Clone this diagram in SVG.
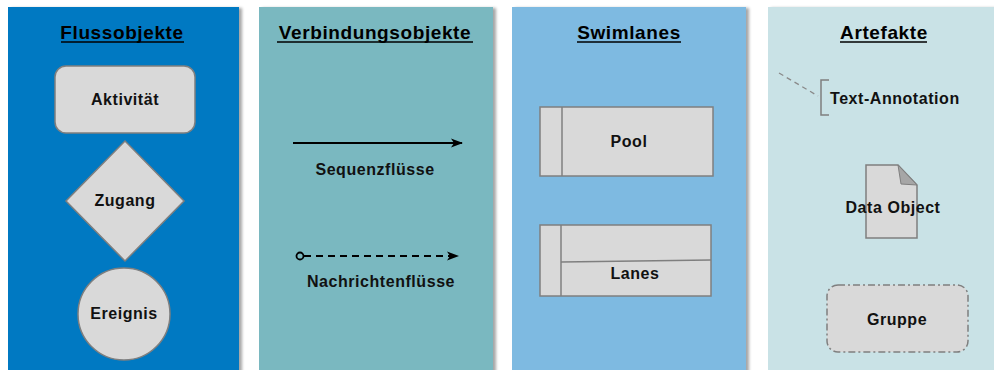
<svg xmlns="http://www.w3.org/2000/svg" width="994" height="370" viewBox="0 0 994 370">
  <defs>
    <filter id="sh" x="-5%" y="-5%" width="115%" height="110%">
      <feDropShadow dx="3" dy="1" stdDeviation="1.5" flood-color="#000" flood-opacity="0.35"/>
    </filter>
    <marker id="arrowSolid" viewBox="0 0 12 10" refX="11" refY="5" markerWidth="12" markerHeight="10" markerUnits="userSpaceOnUse" orient="auto">
      <path d="M0,0.5 L12,5 L0,9.5 L3,5 Z" fill="#000"/>
    </marker>
    <marker id="arrowOpen" viewBox="0 0 12 10" refX="11" refY="5" markerWidth="12" markerHeight="10" markerUnits="userSpaceOnUse" orient="auto">
      <path d="M0,0.5 L12,5 L0,9.5 L3,5 Z" fill="#000"/>
    </marker>
  </defs>
  <style>
    .title { font-family: "Liberation Sans", Arial, sans-serif; font-weight: bold; font-size: 19px; letter-spacing: 0.6px; fill: #000; text-anchor: middle; }
    .ul { stroke: #000; stroke-width: 1.5; }
    .lbl { font-family: "Liberation Sans", Arial, sans-serif; font-weight: bold; font-size: 16px; letter-spacing: 0.55px; fill: #111; text-anchor: middle; }
    .shape { fill: #D9D9D9; stroke: #7F7F7F; stroke-width: 1.5; }
    .line { fill: none; stroke: #7F7F7F; stroke-width: 1.5; }
  </style>
  <rect width="994" height="370" fill="#FFFFFF"/>

  <!-- Panels -->
  <g id="panel-flussobjekte">
    <rect x="8" y="7" width="231" height="370" fill="#0079C2" filter="url(#sh)"/>
    <text class="title" x="122" y="39">Flussobjekte</text>
    <line class="ul" x1="61" y1="42" x2="184" y2="42"/>
  </g>
  <g id="panel-verbindungsobjekte">
    <rect x="259" y="7" width="234" height="370" fill="#7AB8C0" filter="url(#sh)"/>
    <text class="title" x="375" y="39">Verbindungsobjekte</text>
    <line class="ul" x1="277" y1="42" x2="473" y2="42"/>
  </g>
  <g id="panel-swimlanes">
    <rect x="512" y="7" width="234" height="370" fill="#7EBAE1" filter="url(#sh)"/>
    <text class="title" x="629" y="39">Swimlanes</text>
    <line class="ul" x1="577" y1="42" x2="681" y2="42"/>
  </g>
  <g id="panel-artefakte">
    <rect x="768" y="7" width="232" height="370" fill="#C9E2E6" filter="url(#sh)"/>
    <text class="title" x="884" y="39">Artefakte</text>
    <line class="ul" x1="840" y1="42" x2="927" y2="42"/>
  </g>

  <!-- Flow objects -->
  <g id="aktivitaet">
    <rect class="shape" x="55" y="66" width="140" height="67" rx="11" ry="11"/>
    <text class="lbl" x="125" y="105">Aktivität</text>
  </g>
  <g id="zugang">
    <polygon class="shape" points="125,141 184,201 125,261 66,201"/>
    <text class="lbl" x="125" y="206">Zugang</text>
  </g>
  <g id="ereignis">
    <circle class="shape" cx="124" cy="314" r="46"/>
    <text class="lbl" x="124" y="319">Ereignis</text>
  </g>

  <!-- Connectors -->
  <g id="connectors">
    <line x1="293" y1="143" x2="462" y2="143" stroke="#000" stroke-width="2" marker-end="url(#arrowSolid)"/>
    <line x1="304" y1="256" x2="458" y2="256" stroke="#000" stroke-width="2" stroke-dasharray="7,5" marker-end="url(#arrowOpen)"/>
    <circle cx="300" cy="256" r="3.5" fill="none" stroke="#000" stroke-width="1.8"/>
    <line x1="779" y1="73" x2="818" y2="96" stroke="#8A8A8A" stroke-width="1.3" stroke-dasharray="5,4"/>
  </g>
  <g id="sequenzfluesse">
    <text class="lbl" x="375" y="175">Sequenzflüsse</text>
  </g>
  <g id="nachrichtenfluesse">
    <text class="lbl" x="381" y="287">Nachrichtenflüsse</text>
  </g>

  <!-- Swimlanes -->
  <g id="pool">
    <rect class="shape" x="540" y="107" width="173" height="69"/>
    <line class="line" x1="562" y1="107" x2="562" y2="176"/>
    <text class="lbl" x="629" y="147">Pool</text>
  </g>
  <g id="lanes">
    <rect class="shape" x="540" y="225" width="171" height="71"/>
    <line class="line" x1="561" y1="225" x2="561" y2="296"/>
    <line class="line" x1="561" y1="262" x2="711" y2="260"/>
    <text class="lbl" x="635" y="279">Lanes</text>
  </g>

  <!-- Artifacts -->
  <g id="text-annotation">
    <polyline class="line" points="829,80 821,80 821,115 829,115"/>
    <text class="lbl" x="830" y="104" style="text-anchor:start">Text-Annotation</text>
  </g>
  <g id="data-object">
    <path class="shape" d="M866,165 L898,165 L917,185 L917,238 L866,238 Z"/>
    <path d="M898,165 L901,184 L917,185 Z" fill="#A6A6A6" stroke="#7F7F7F" stroke-width="1"/>
    <text class="lbl" x="893" y="213">Data Object</text>
  </g>
  <g id="gruppe">
    <rect x="827" y="285" width="141" height="67" rx="11" ry="11" fill="#D9D9D9" stroke="#7F7F7F" stroke-width="1.5" stroke-dasharray="7,3,2,3"/>
    <text class="lbl" x="897" y="325">Gruppe</text>
  </g>
</svg>
